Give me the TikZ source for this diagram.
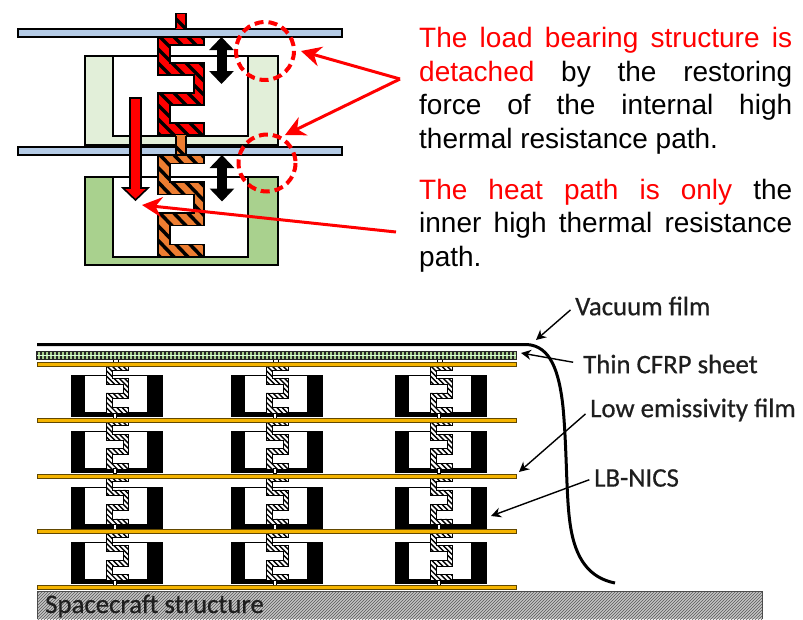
\documentclass[tikz,border=0pt]{standalone}
\usepackage{fontspec}
\setmainfont{Liberation Sans}
\newfontfamily\labelfont[RawFeature={embolden=0.6}]{Carlito}
\usetikzlibrary{arrows.meta,patterns}
\definecolor{platebluefill}{HTML}{B4CBE6}
\definecolor{palegreenfill}{HTML}{E2EFD9}
\definecolor{midgreenfill}{HTML}{A9D18E}
\definecolor{orangefill}{HTML}{ED7D31}
\definecolor{goldfill}{HTML}{F5B400}
\definecolor{grayfill}{HTML}{C4C4C4}
\definecolor{callgray}{HTML}{1E1E1E}
\tikzset{
    blueplate/.style={draw=black,line width=2pt,fill=platebluefill},
    goldplate/.style={draw=black!60!goldfill,line width=0.8pt,fill=goldfill},
    redcall/.style={draw=red,line width=3pt,-{Stealth[length=20pt,width=20pt]}},
    blackcall/.style={draw=black,line width=1.4pt,-{Stealth[length=10pt,width=10pt]}},
    gaparrow/.style={draw=black,line width=10pt,{Triangle[length=13pt,width=24pt]}-{Triangle[length=13pt,width=24pt]}},
    dashring/.style={draw=red,line width=4pt,dash pattern=on 9pt off 5pt},
    redtext/.style={anchor=north west,inner sep=0pt,text width=373pt,align=justify,font=\fontsize{28}{33.4}\selectfont},
    filmlabel/.style={anchor=west,inner sep=0pt,text=callgray,font=\labelfont\fontsize{26.8}{30}\selectfont}
}
% x, y, xscale, yscale, fill, hatch width, outline width, hatch step
\newcommand{\lbspring}[8]{
    \begin{scope}[shift={(#1,#2)},xscale=#3,yscale=#4]
        \begin{scope}
            \clip (0,0)--(46,0)--(46,8)--(12,8)--(12,26)--(46,26)--(46,68)--(12,68)--(12,86)--(46,86)--(46,98)--(0,98)--(0,56)--(36,56)--(36,38)--(0,38)--cycle;
            \fill[#5] (-1,-1) rectangle (47,99);
            \foreach \k in {-12,...,6}
                \draw[line width=#6] (\k*#8,-2)--(\k*#8+104,102);
        \end{scope}
        \draw[line width=#7] (0,0)--(46,0)--(46,8)--(12,8)--(12,26)--(46,26)--(46,68)--(12,68)--(12,86)--(46,86)--(46,98)--(0,98)--(0,56)--(36,56)--(36,38)--(0,38)--cycle;
    \end{scope}
}
\begin{document}
\begin{tikzpicture}[x=1pt,y=-1pt]
    \useasboundingbox (0,0) rectangle (803,619);
    % upper joint
    \draw[line width=1.6pt,fill=palegreenfill] (85,56) rectangle (278,145);
    \draw[line width=1.6pt,fill=white] (113,56)--(113,136)--(248,136)--(248,56);
    \draw[line width=1.6pt,fill=midgreenfill] (85,177) rectangle (278,265);
    \draw[line width=1.6pt,fill=white] (113,177)--(113,257)--(248,257)--(248,177);
    \fill[white] (114,57) rectangle (247,135);
    \fill[white] (114,178) rectangle (247,256);
    \draw[line width=1.6pt] (113,56)--(248,56);
    \draw[line width=1.6pt] (113,177)--(248,177);
    \draw[blueplate] (18,28.5) rectangle (342,36.5);
    \draw[blueplate] (18,147) rectangle (342,155);
    \begin{scope}
        \clip (176,13) rectangle (186,29);
        \fill[red] (176,13) rectangle (186,29);
        \draw[line width=3.5pt] (172,15)--(190,33);
    \end{scope}
    \draw[line width=1.4pt] (176,28)--(176,13.5)--(186,13.5)--(186,28);
    \lbspring{158}{37}{1}{1}{fill=red}{3.5pt}{1.5pt}{14}
    \begin{scope}
        \clip (176,135) rectangle (186,156);
        \fill[orangefill] (176,135) rectangle (186,156);
        \draw[line width=3.5pt] (170,141)--(192,163);
    \end{scope}
    \draw[line width=1.4pt] (176,136)--(176,155) (186,136)--(186,155);
    \lbspring{158}{155}{1}{1.04}{fill=orangefill}{3.5pt}{1.5pt}{14}
    \coordinate (gapatop) at (221.5,37);
    \coordinate (gapabot) at (221.5,84);
    \coordinate (gapbtop) at (222,155);
    \coordinate (gapbbot) at (222,201.5);
    \draw[gaparrow] (gapatop)--(gapabot);
    \draw[gaparrow] (gapbtop)--(gapbbot);
    \filldraw[fill=red,line width=1.6pt] (130,98)--(141,98)--(141,188)--(148,188)--(135.5,200)--(123,188)--(130,188)--cycle;
    \draw[dashring] (265,51) circle (29);
    \draw[dashring] (267,163) circle (28.5);
    % callouts of the upper joint
    \coordinate (loadroot) at (400,79);
    \coordinate (loadtipa) at (301,51);
    \coordinate (loadtipb) at (285,135);
    \coordinate (heatroot) at (396,232);
    \coordinate (heattip) at (142,205);
    \draw[redcall] (loadroot)--(loadtipa);
    \draw[redcall] (loadroot)--(loadtipb);
    \draw[redcall] (heatroot)--(heattip);
    \node[redtext] (loadtext) at (419,27.5) {\textcolor{red}{The load bearing structure is}\linebreak \textcolor{red}{detached} by the restoring\linebreak force of the internal high\linebreak thermal resistance path.};
    \node[redtext] (heattext) at (419,179) {\textcolor{red}{The heat path is only} the\linebreak inner high thermal resistance\linebreak path.};
    % insulation stack
    \fill[grayfill] (37,591) rectangle (762,619);
    \fill[pattern=north east lines,pattern color=black!65] (37,591) rectangle (762,619);
    \draw[black!70,line width=0.8pt] (37,619)--(37,591)--(762,591)--(762,619);
    \foreach \row in {0,1,2,3}
        \foreach \col in {0,160,324}{
            \begin{scope}[shift={(\col,\row*55.75)}]
                \fill[black] (71,375) rectangle (163,417);
                \fill[white] (85,376) rectangle (147,412);
                \lbspring{106}{366}{0.48}{0.48}{fill=white}{1.4pt}{0.5pt}{11}
                \draw[line width=0.6pt,fill=white] (113.5,413) rectangle (116.5,418);
            \end{scope}
        }
    \foreach \col in {0,160,324}
        \draw[line width=0.6pt,fill=white] (113+\col,358.5) rectangle (118+\col,362);
    \foreach \row in {0,...,4}
        \draw[goldplate] (37,362.5+\row*55.75) rectangle (516,366.5+\row*55.75);
    \fill[midgreenfill] (36,351) rectangle (516,359);
    \foreach \k in {0,...,119}
        \draw[black!85,line width=1.4pt] (37+\k*4,351)--(37+\k*4,359);
    \draw[white!85!green,line width=1pt] (36,355)--(516,355);
    \draw[black!85,line width=1pt] (36,351) rectangle (516,359);
    \coordinate (filmstart) at (37,344.5);
    \coordinate (filmend) at (615,583);
    \draw[line width=3pt] (filmstart)--(527,344.5) .. controls (550,346) and (559,370) .. (563,407) .. controls (567,450) and (566,495) .. (570,523) .. controls (575,560) and (590,578) .. (filmend);
    % labels of the stack
    \node[font=\labelfont\fontsize{26.8}{30}\selectfont,text=callgray,inner sep=0pt,anchor=base west] (spacelabel) at (45,613) {Spacecraft structure};
    \node[filmlabel] (vacuumlabel) at (575,306) {Vacuum film};
    \node[filmlabel] (cfrplabel) at (583,364) {Thin CFRP sheet};
    \node[filmlabel] (lowlabel) at (590,410) {Low emissivity film};
    \node[filmlabel] (nicslabel) at (594,478) {LB-NICS};
    \coordinate (vacuumtip) at (536,340);
    \coordinate (cfrptip) at (521,353);
    \coordinate (lowtip) at (519,472);
    \coordinate (nicstip) at (491,516);
    \draw[blackcall,shorten <=6pt] (vacuumlabel.west)--(vacuumtip);
    \draw[blackcall,shorten <=10pt] (cfrplabel.west)--(cfrptip);
    \draw[blackcall,shorten <=6pt] (lowlabel.west)--(lowtip);
    \draw[blackcall,shorten <=5pt] (nicslabel.west)--(nicstip);
\end{tikzpicture}
\end{document}
